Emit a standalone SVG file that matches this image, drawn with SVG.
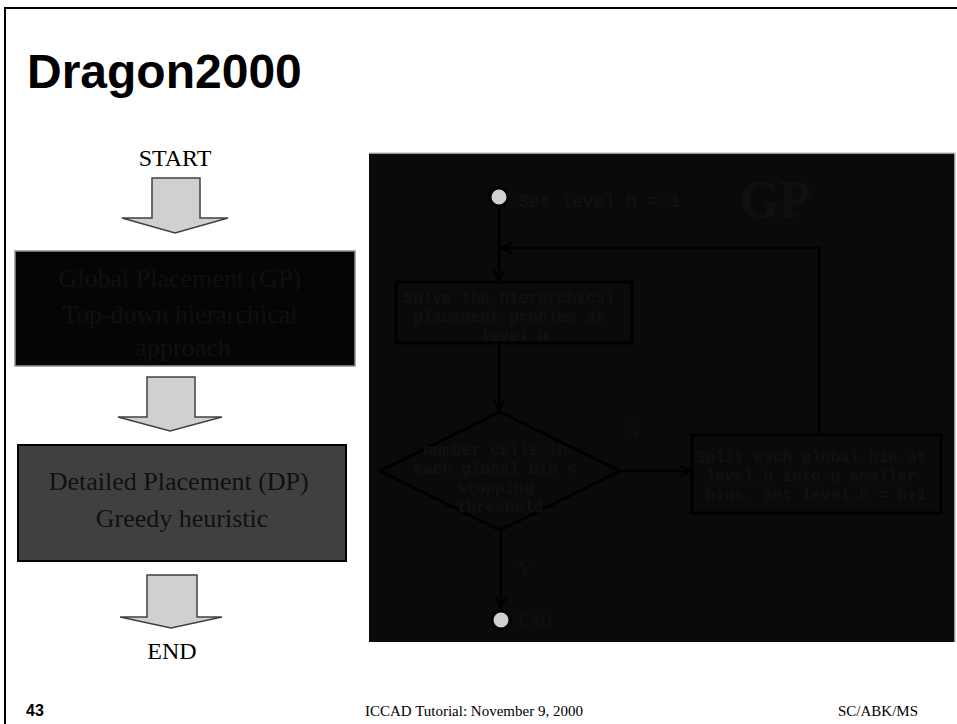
<svg xmlns="http://www.w3.org/2000/svg" width="957" height="724" viewBox="0 0 957 724">
  <style>
    .serif { font-family: "Liberation Serif", "Times New Roman", serif; }
    .sans { font-family: "Liberation Sans", Arial, sans-serif; }
    .mono { font-family: "Liberation Mono", "Courier New", monospace; font-weight: bold; fill: #111; }
    .blockarrow { fill: #d0d0d0; stroke: #404040; stroke-width: 1.5; }
    .flow { stroke: #000; stroke-width: 2.5; fill: none; }
    .node { fill: none; stroke: #000; stroke-width: 3; }
    .dim { fill: #101010; }
    .dot { fill: #d0d0d0; stroke: #000; stroke-width: 3; }
  </style>
  <defs>
    <marker id="open" viewBox="0 0 12 12" refX="11" refY="6" markerWidth="12" markerHeight="12" markerUnits="userSpaceOnUse" orient="auto">
      <path d="M0,1 L11,6 L0,11" fill="none" stroke="#000" stroke-width="2"/>
    </marker>
  </defs>

  <rect width="957" height="724" fill="#fff"/>
  <!-- slide frame -->
  <path d="M5,724 V8 H957" fill="none" stroke="#000" stroke-width="2"/>

  <text class="sans" x="27" y="88" font-size="48" font-weight="bold">Dragon2000</text>

  <!-- left-hand overview flow -->
  <g id="start-label">
    <text class="serif" x="175" y="166" font-size="24" text-anchor="middle">START</text>
  </g>
  <g id="arrow-start">
    <path class="blockarrow" d="M152,178 H200 V218 H228 L175,233 L122,218 H152 Z"/>
  </g>
  <g id="gp-box">
    <rect x="15" y="251" width="340" height="115" fill="#050505" stroke="#909090" stroke-width="1.5"/>
    <text class="serif dim" font-size="26" text-anchor="middle">
      <tspan x="183" y="287">Global Placement (GP)</tspan>
      <tspan x="183" y="323">Top-down hierarchical</tspan>
      <tspan x="183" y="356">approach</tspan>
    </text>
  </g>
  <g id="arrow-mid">
    <path class="blockarrow" d="M147,377 H195 V417 H222 L170,431 L118,417 H147 Z"/>
  </g>
  <g id="dp-box">
    <rect x="18" y="445" width="328" height="116" fill="#404040" stroke="#000" stroke-width="2"/>
    <text class="serif dim" font-size="26" text-anchor="middle">
      <tspan x="182" y="490">Detailed Placement (DP)</tspan>
      <tspan x="182" y="527">Greedy heuristic</tspan>
    </text>
  </g>
  <g id="arrow-end">
    <path class="blockarrow" d="M147,575 H197 V617 H222 L171,628 L120,617 H147 Z"/>
  </g>
  <g id="end-label">
    <text class="serif" x="172" y="659" font-size="24" text-anchor="middle">END</text>
  </g>

  <!-- global placement detail panel -->
  <g id="gp-panel">
    <rect x="369" y="153" width="586" height="489" fill="#0a0a0a"/>
    <path d="M369,153 H955 V642" fill="none" stroke="#c8c8c8" stroke-width="1.5"/>
    <text class="serif dim" x="775" y="217" font-size="52" font-weight="bold" text-anchor="middle">GP</text>
  </g>

  <g id="connectors">
    <line class="flow" x1="499" y1="206" x2="499" y2="281" marker-end="url(#open)"/>
    <polyline class="flow" points="819,433 819,248 501,248" marker-end="url(#open)"/>
    <line class="flow" x1="499" y1="343" x2="499" y2="411" marker-end="url(#open)"/>
    <line class="flow" x1="620" y1="471" x2="691" y2="471" marker-end="url(#open)"/>
    <line class="flow" x1="501" y1="530" x2="501" y2="608" marker-end="url(#open)"/>
  </g>

  <g id="start-dot">
    <circle class="dot" cx="499" cy="197" r="9"/>
    <text class="mono" x="518" y="207" style="font-size:18px">Set level h = 1</text>
  </g>
  <g id="solve">
    <rect class="node" x="396" y="282" width="236" height="61"/>
    <text class="mono" text-anchor="middle" style="font-size:16px">
      <tspan x="514" y="303">Solve the hierarchical</tspan>
      <tspan x="514" y="322">placement problem at</tspan>
      <tspan x="514" y="341">level h</tspan>
    </text>
  </g>
  <g id="check">
    <polygon class="node" points="500,412 620,471 500,530 380,471"/>
    <text class="mono" text-anchor="middle" style="font-size:16px">
      <tspan x="500" y="455">number cells in</tspan>
      <tspan x="500" y="474">each global bin &lt;</tspan>
      <tspan x="500" y="493">stopping</tspan>
      <tspan x="500" y="512">threshold</tspan>
    </text>
  </g>
  <g id="split">
    <rect class="node" x="692" y="435" width="249" height="78"/>
    <text class="mono" text-anchor="middle" style="font-size:16px">
      <tspan x="816" y="462">Split each global bin at</tspan>
      <tspan x="816" y="481">level h into g smaller</tspan>
      <tspan x="816" y="500">bins. Set level h = h+1</tspan>
    </text>
  </g>
  <g id="branch-labels">
    <text class="serif dim" x="624" y="437" font-size="22">N</text>
    <text class="serif dim" x="517" y="576" font-size="22">Y</text>
  </g>
  <g id="end-dot">
    <circle class="dot" cx="501" cy="620" r="9"/>
    <text class="serif dim" x="518" y="626" font-size="16" font-weight="bold">END</text>
  </g>

  <!-- footer -->
  <text class="sans" x="26" y="716" font-size="16" font-weight="bold">43</text>
  <text class="serif" x="365" y="716" font-size="15">ICCAD Tutorial: November 9, 2000</text>
  <text class="serif" x="838" y="716" font-size="15">SC/ABK/MS</text>
</svg>
